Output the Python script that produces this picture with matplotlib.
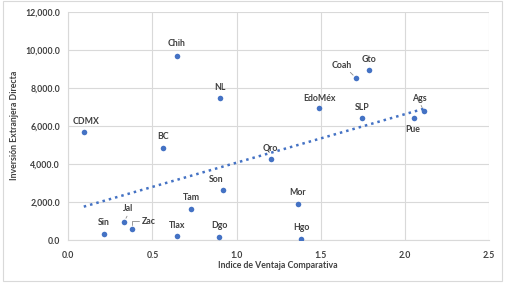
import matplotlib
matplotlib.use("Agg")
import matplotlib.pyplot as plt
import numpy as np
from matplotlib.patches import Rectangle
from matplotlib.ticker import FuncFormatter

states = ["CDMX", "Chih", "NL", "BC", "Qro", "Son", "Tam", "Jal", "Zac", "Sin",
          "Tlax", "Dgo", "Mor", "Hgo", "EdoMéx", "SLP", "Coah", "Gto", "Ags", "Pue"]
ivc = [0.092, 0.643, 0.899, 0.564, 1.202, 0.919, 0.730, 0.331, 0.381, 0.211,
       0.645, 0.897, 1.365, 1.385, 1.490, 1.746, 1.710, 1.784, 2.113, 2.056]
ied = [5670, 9680, 7440, 4860, 4260, 2615, 1650, 950, 560, 315,
       210, 175, 1910, 70, 6930, 6400, 8510, 8910, 6770, 6390]
# label offsets in pixels (dx, dy)
label_off = {"CDMX": (2, 11), "Chih": (0, 12), "NL": (0, 11), "BC": (0, 11),
             "Qro": (0, 11), "Son": (-7, 11), "Tam": (0, 11), "Jal": (4, 13),
             "Zac": (16, 8), "Sin": (0, 12), "Tlax": (0, 11), "Dgo": (0, 11),
             "Mor": (0, 11), "Hgo": (0, 11), "EdoMéx": (0, 10), "SLP": (0, 11),
             "Coah": (-14, 13), "Gto": (0, 11), "Ags": (-5, 13), "Pue": (-2, -11)}
# leader lines: relpos on label box, connection style
leader = {"Jal": ((0.55, 0.0), "arc3"),
          "Zac": ((0.0, 0.5), "angle,angleA=0,angleB=90,rad=0"),
          "Coah": ((0.75, 0.05), "arc3"),
          "Ags": ((0.55, 0.05), "arc3")}

blue = "#4472C4"
txt = "#404040"
plt.rcParams["font.family"] = ["Lato", "DejaVu Sans"]

fig = plt.figure(figsize=(5.11, 2.84), dpi=100)
ax = fig.add_axes([68.3 / 511, 44 / 284, (489 - 68.3) / 511, (240 - 11.7) / 284])

ax.scatter(ivc, ied, s=16, color=blue, zorder=3, linewidths=0)

# linear trendline
k, b = np.polyfit(ivc, ied, 1)
xs = np.linspace(min(ivc), max(ivc), 100)
ax.plot(xs, k * xs + b, linestyle=(0, (1, 1.6)), color=blue, lw=1.8, zorder=2)

for name, x, y in zip(states, ivc, ied):
    dx, dy = label_off[name]
    kw = {}
    if name in leader:
        rp, cs = leader[name]
        kw["arrowprops"] = dict(arrowstyle="-", color="#8c8c8c", lw=0.6,
                                shrinkA=0, shrinkB=3, relpos=rp, connectionstyle=cs)
    ax.annotate(name, (x, y), xytext=(dx, dy), textcoords="offset pixels",
                ha="center", va="center", fontsize=6.3, fontweight="bold", color=txt,
                zorder=4, **kw)

ax.set_xlim(0, 2.5)
ax.set_ylim(0, 12000)
ax.set_xticks(np.arange(0, 2.51, 0.5))
ax.set_yticks(np.arange(0, 12001, 2000))
ax.xaxis.set_major_formatter(FuncFormatter(lambda v, p: f"{v:.1f}"))
ax.yaxis.set_major_formatter(FuncFormatter(lambda v, p: f"{v:,.1f}"))
ax.tick_params(length=0, labelsize=6.3, colors=txt)
ax.tick_params(axis="x", pad=8)
ax.tick_params(axis="y", pad=6)
for lab in ax.get_xticklabels() + ax.get_yticklabels():
    lab.set_fontweight("bold")
ax.grid(True, color="#d9d9d9", lw=0.8)
ax.set_axisbelow(True)
for side in ["top", "right"]:
    ax.spines[side].set_visible(False)
for side in ["left", "bottom"]:
    ax.spines[side].set_color("#d9d9d9")
    ax.spines[side].set_linewidth(0.8)

fig.text(278 / 511, 1 - 265 / 284, "Indice de Ventaja Comparativa", ha="center", va="center",
         fontsize=6.3, fontweight="bold", color=txt)
fig.text(15 / 511, 1 - 125 / 284, "Inversión Extranjera Directa", ha="center", va="center",
         rotation=90, fontsize=6.3, fontweight="bold", color=txt)

fig.patches.append(Rectangle((3 / 511, 3 / 284), 499 / 511, 280 / 284,
                             transform=fig.transFigure, fill=False,
                             edgecolor="#d9d9d9", lw=0.8))

fig.savefig("out.png", dpi=100)
